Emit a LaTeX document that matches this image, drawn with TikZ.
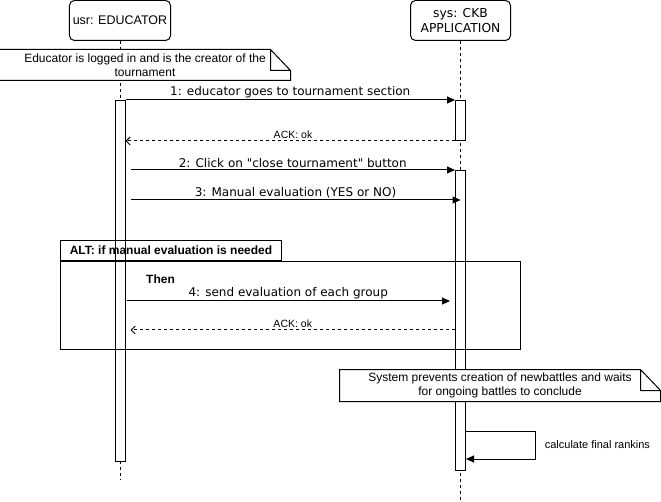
\documentclass[tikz,border=0pt]{standalone}
\usepackage{fontspec}
\setmainfont{Liberation Sans}
\newfontfamily\msgfont{DejaVu Sans}
\usetikzlibrary{arrows.meta,positioning}

\begin{document}
\begin{tikzpicture}[x=1pt,y=-1pt,line width=1pt,
        actor/.style={draw,rounded corners=5pt,minimum width=100pt,minimum height=40pt,align=center},
        act/.style={draw,fill=white,minimum width=10pt,inner sep=0pt,anchor=north},
        life/.style={dash pattern=on 3pt off 3pt},
        msg/.style={-{Triangle[length=8pt,width=7pt]}},
        ret/.style={dash pattern=on 3pt off 3pt,-{Straight Barb[length=4pt,width=8pt]}},
        lbl/.style={above=0.5pt,inner sep=1pt,font=\msgfont\fontsize{12}{14}\selectfont},
        ack/.style={above=1pt,inner sep=1pt,font=\fontsize{10.5}{12}\selectfont},
        note/.style={fill=white,align=center,inner sep=0pt,font=\fontsize{12}{13.5}\selectfont}]
        \useasboundingbox (0,0) rectangle (661,502);

        % actors and lifelines
        \node[actor,font=\fontsize{12.5}{14}\selectfont] (edu) at (120,20.5) {usr: EDUCATOR};
        \node[actor,font=\msgfont\fontsize{12.3}{15}\selectfont] (ckb) at (460.5,20.5) {sys: CKB\\APPLICATION};
        \coordinate (eduend) at (120,480);
        \coordinate (ckbend) at (460.5,500);
        \draw[life] (edu.south) -- (eduend);
        \draw[life] (ckb.south) -- (ckbend);

        % activations
        \node[act,minimum height=361pt] (eact) at (120,100) {};
        \node[act,minimum height=40pt] (cact1) at (460.5,100) {};
        \node[act,minimum height=300pt] (cact2) at (460.5,170) {};

        % precondition note
        \node[note,minimum width=290pt,minimum height=30pt] (pre) at (145,65) {Educator is logged in and is the creator of the\\tournament};
        \draw (pre.north west) -- ([xshift=-20pt]pre.north east) -- ([yshift=-21pt]pre.north east)
              -- (pre.south east) -- (pre.south west) -- cycle
              ([xshift=-20pt]pre.north east) |- ([yshift=-21pt]pre.north east);

        % message levels
        \coordinate (y1) at (0,100);
        \coordinate (y2) at (0,141);
        \coordinate (y3) at (0,170);
        \coordinate (y4) at (0,200);
        \coordinate (y5) at (0,301);
        \coordinate (y6) at (0,330);

        \draw[msg] (eact.east |- y1) -- node[lbl] {1: educator goes to tournament section} (cact1.west |- y1);
        \draw[ret] (ckb.south |- y2) -- node[ack] {ACK: ok} (eact.east |- y2);
        \draw[msg] ([xshift=5pt]eact.east |- y3) -- node[lbl] {2: Click on "close tournament" button} (cact2.west |- y3);
        \draw[msg] ([xshift=5pt]eact.east |- y4) -- node[lbl] {3: Manual evaluation (YES or NO)} (ckb.south |- y4);

        % alternative fragment
        \node[draw,minimum width=460pt,minimum height=88pt,anchor=north west] (alt) at (60,261) {};
        \node[draw,anchor=south west,minimum width=221pt,minimum height=20pt,
              font=\bfseries\fontsize{12}{13}\selectfont] (alttab) at (alt.north west) {ALT: if manual evaluation is needed};
        \node[font=\bfseries\fontsize{12}{13}\selectfont] (then) at (160.5,279) {Then};
        \draw[msg] ([xshift=1pt]eact.east |- y5) -- node[lbl] {4: send evaluation of each group} ([xshift=-5pt]cact2.west |- y5);
        \draw[ret] (cact2.west |- y6) -- node[ack] {ACK: ok} ([xshift=5pt]eact.east |- y6);

        % closing note
        \node[note,minimum width=320pt,minimum height=31pt] (wait) at (500,385.5) {System prevents creation of newbattles and waits\\for ongoing battles to conclude};
        \draw (wait.north west) -- ([xshift=-20pt]wait.north east) -- ([yshift=-21pt]wait.north east)
              -- (wait.south east) -- (wait.south west) -- cycle
              ([xshift=-20pt]wait.north east) |- ([yshift=-21pt]wait.north east);

        % self call
        \coordinate (selfr) at (535,431);
        \coordinate (selfb) at (535,459);
        \draw[msg] (cact2.east |- selfr) -- (selfr) -- node[right=6pt,font=\fontsize{11}{12}\selectfont] (calc) {calculate final rankins} (selfb) -- (cact2.east |- selfb);
\end{tikzpicture}
\end{document}
